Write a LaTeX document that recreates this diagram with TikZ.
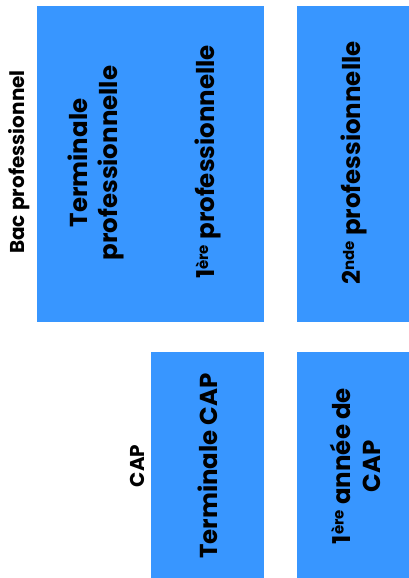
\documentclass[tikz,border=0pt]{standalone}
\usepackage{fontspec}
\setmainfont{Poppins}
\definecolor{boxblue}{RGB}{56,150,255}
\newcommand{\mysup}[1]{\raisebox{6.5pt}{\fontsize{15}{15}\selectfont #1}}
\begin{document}
\begin{tikzpicture}[x=1pt,y=-1pt,
  blk/.style={fill=boxblue,draw=none},
  lbl/.style={rotate=90,align=center,font=\fontsize{24.5}{30}\selectfont\bfseries,inner sep=0pt},
  side/.style={rotate=90,align=center,font=\fontsize{20}{22}\selectfont\bfseries,inner sep=0pt}]
\useasboundingbox (0,0) rectangle (409,578);
\fill[white] (0,0) rectangle (409,578);
\path[blk] (37,6) rectangle (264,322);
\path[blk] (297,6) rectangle (409,322);
\path[blk] (151,352) rectangle (264,578);
\path[blk] (297,352) rectangle (409,578);
\node[side] (bac) at (19,162) {Bac professionnel};
\node[side] (cap) at (137,466) {CAP};
\node[lbl] (term) at (96,163) {Terminale\\professionnelle};
\node[lbl] (prem) at (208,162) {1\mysup{ère} professionnelle};
\node[lbl] (sec) at (354,163) {2\mysup{nde} professionnelle};
\node[lbl] (tcap) at (208,466) {Terminale CAP};
\node[lbl] (pcap) at (355,466) {1\mysup{ère} année de\\CAP};
\end{tikzpicture}
\end{document}
